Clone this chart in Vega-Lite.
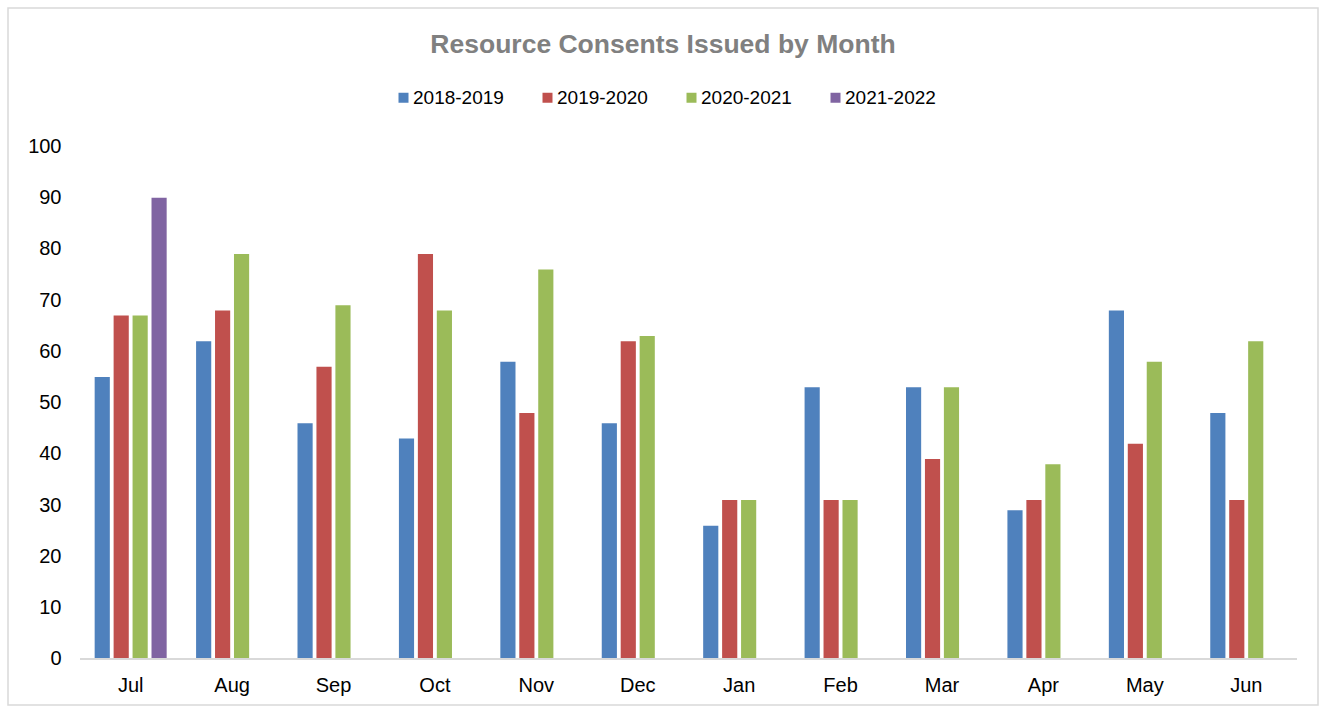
{
  "$schema": "https://vega.github.io/schema/vega-lite/v6.json",
  "width": 1310,
  "height": 697,
  "padding": {"left": 8, "top": 8, "right": 6, "bottom": 3},
  "autosize": {"type": "none"},
  "background": "#ffffff",
  "config": {
    "view": {"stroke": "#d9d9d9", "strokeWidth": 1.5},
    "font": "Liberation Sans"
  },
  "title": {
    "text": "Resource Consents Issued by Month",
    "fontSize": 26.5,
    "fontWeight": "bold",
    "color": "#808080",
    "font": "Liberation Sans",
    "anchor": "middle",
    "frame": "group",
    "offset": -50
  },
  "data": {
    "values": [
      {"month": "Jul", "season": "2018-2019", "count": 55},
      {"month": "Jul", "season": "2019-2020", "count": 67},
      {"month": "Jul", "season": "2020-2021", "count": 67},
      {"month": "Jul", "season": "2021-2022", "count": 90},
      {"month": "Aug", "season": "2018-2019", "count": 62},
      {"month": "Aug", "season": "2019-2020", "count": 68},
      {"month": "Aug", "season": "2020-2021", "count": 79},
      {"month": "Sep", "season": "2018-2019", "count": 46},
      {"month": "Sep", "season": "2019-2020", "count": 57},
      {"month": "Sep", "season": "2020-2021", "count": 69},
      {"month": "Oct", "season": "2018-2019", "count": 43},
      {"month": "Oct", "season": "2019-2020", "count": 79},
      {"month": "Oct", "season": "2020-2021", "count": 68},
      {"month": "Nov", "season": "2018-2019", "count": 58},
      {"month": "Nov", "season": "2019-2020", "count": 48},
      {"month": "Nov", "season": "2020-2021", "count": 76},
      {"month": "Dec", "season": "2018-2019", "count": 46},
      {"month": "Dec", "season": "2019-2020", "count": 62},
      {"month": "Dec", "season": "2020-2021", "count": 63},
      {"month": "Jan", "season": "2018-2019", "count": 26},
      {"month": "Jan", "season": "2019-2020", "count": 31},
      {"month": "Jan", "season": "2020-2021", "count": 31},
      {"month": "Feb", "season": "2018-2019", "count": 53},
      {"month": "Feb", "season": "2019-2020", "count": 31},
      {"month": "Feb", "season": "2020-2021", "count": 31},
      {"month": "Mar", "season": "2018-2019", "count": 53},
      {"month": "Mar", "season": "2019-2020", "count": 39},
      {"month": "Mar", "season": "2020-2021", "count": 53},
      {"month": "Apr", "season": "2018-2019", "count": 29},
      {"month": "Apr", "season": "2019-2020", "count": 31},
      {"month": "Apr", "season": "2020-2021", "count": 38},
      {"month": "May", "season": "2018-2019", "count": 68},
      {"month": "May", "season": "2019-2020", "count": 42},
      {"month": "May", "season": "2020-2021", "count": 58},
      {"month": "Jun", "season": "2018-2019", "count": 48},
      {"month": "Jun", "season": "2019-2020", "count": 31},
      {"month": "Jun", "season": "2020-2021", "count": 62}
    ]
  },
  "layer": [
    {
      "mark": {"type": "bar"},
      "encoding": {
        "x": {
          "field": "month",
          "type": "nominal",
          "sort": ["Jul", "Aug", "Sep", "Oct", "Nov", "Dec", "Jan", "Feb", "Mar", "Apr", "May", "Jun"],
          "scale": {"paddingInner": 0.29, "paddingOuter": 0.6035, "align": 0.708},
          "axis": {
            "title": null,
            "orient": "bottom",
            "offset": -46,
            "bandPosition": 0.5,
            "domain": false,
            "ticks": false,
            "labelAngle": 0,
            "labelAlign": "center",
            "labelFontSize": 20,
            "labelColor": "#000000",
            "labelPadding": 16
          }
        },
        "xOffset": {
          "field": "season",
          "type": "nominal",
          "scale": {"paddingInner": 0.2, "paddingOuter": 0}
        },
        "y": {
          "field": "count",
          "type": "quantitative",
          "scale": {"domain": [-9, 127], "nice": false, "zero": false},
          "axis": {
            "title": null,
            "values": [0, 10, 20, 30, 40, 50, 60, 70, 80, 90, 100],
            "offset": -72,
            "domain": false,
            "ticks": false,
            "grid": false,
            "labelFontSize": 20,
            "labelColor": "#000000",
            "labelPadding": 19
          }
        },
        "y2": {"datum": 0},
        "color": {
          "field": "season",
          "type": "nominal",
          "scale": {
            "domain": ["2018-2019", "2019-2020", "2020-2021", "2021-2022"],
            "range": ["#4f81bd", "#c0504d", "#9bbb59", "#8064a2"]
          },
          "legend": {
            "title": null,
            "orient": "none",
            "direction": "horizontal",
            "legendX": 386,
            "legendY": 80,
            "symbolType": "square",
            "symbolSize": 100,
            "symbolStrokeWidth": 0,
            "labelFontSize": 19,
            "labelColor": "#000000",
            "labelOffset": 0,
            "columnPadding": 34
          }
        }
      }
    },
    {
      "mark": {"type": "rule", "color": "#d9d9d9", "strokeWidth": 1.5},
      "encoding": {
        "x": {"datum": "Jul", "bandPosition": -0.2, "type": "nominal"},
        "x2": {"datum": "Jun", "bandPosition": 1.2},
        "y": {"datum": 0, "type": "quantitative"}
      }
    }
  ]
}
